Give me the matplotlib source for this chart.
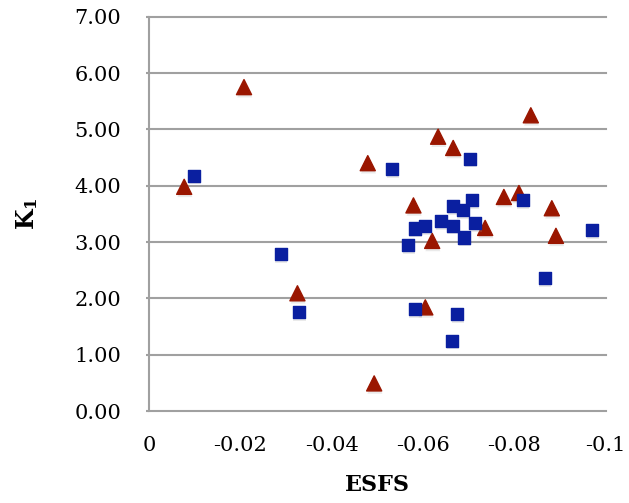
import numpy as np
import matplotlib
matplotlib.use('Agg')
from matplotlib import pyplot as plt
from matplotlib import patheffects as pe
from matplotlib.lines import Line2D

tri_esfs = [-0.0077, -0.0208, -0.0325, -0.0479, -0.0493, -0.0579, -0.0605, -0.0620,
            -0.0633, -0.0666, -0.0736, -0.0777, -0.0810, -0.0836, -0.0882, -0.0891]
tri_k1 = [3.98, 5.75, 2.09, 4.40, 0.49, 3.65, 1.84, 3.02,
          4.87, 4.67, 3.25, 3.80, 3.87, 5.25, 3.60, 3.11]

sq_esfs = [-0.0099, -0.0288, -0.0328, -0.0532, -0.0568, -0.0582, -0.0582, -0.0605,
           -0.0639, -0.0666, -0.0665, -0.0674, -0.0664, -0.0687, -0.0690, -0.0703,
           -0.0707, -0.0714, -0.0818, -0.0866, -0.0970]
sq_k1 = [4.18, 2.79, 1.75, 4.30, 2.95, 1.81, 3.24, 3.28,
         3.37, 3.64, 3.29, 1.72, 1.25, 3.56, 3.08, 4.48,
         3.75, 3.33, 3.74, 2.36, 3.21]

x_ticks = [0, -0.02, -0.04, -0.06, -0.08, -0.1]
x_tick_labels = ['0', '-0.02', '-0.04', '-0.06', '-0.08', '-0.1']
y_ticks = [0, 1, 2, 3, 4, 5, 6, 7]

plt.rcParams['font.family'] = 'DejaVu Serif'
plt.rcParams['mathtext.fontset'] = 'dejavuserif'

fig = plt.figure(figsize=(6.29, 5.03), dpi=100)
axes = fig.add_axes([0.2369, 0.1829, 0.7261, 0.7839])
axes.set_xlim(0, -0.1)
axes.set_ylim(0, 7)
axes.patch.set_visible(False)

# Горизонтальные линии сетки рисуем на уровне фигуры, под осями
for y in y_ticks:
    fig.add_artist(Line2D([0, 1], [y, y], transform=axes.get_yaxis_transform(),
                          color='#A0A0A0', linewidth=1.5, zorder=-1))

shadow = [pe.SimplePatchShadow(offset=(0.5, -2), shadow_rgbFace='#999999', alpha=0.2),
          pe.Normal()]
axes.scatter(tri_esfs, tri_k1, marker='^', s=118, color='#9A1600',
             zorder=3, path_effects=shadow)
axes.scatter(sq_esfs, sq_k1, marker='s', s=75, color='#0A1FA0',
             zorder=4, path_effects=shadow)

axes.set_xticks(x_ticks)
axes.set_xticklabels(x_tick_labels)
axes.set_yticks(y_ticks)
axes.set_yticklabels(['{:.2f}'.format(v) for v in y_ticks])

for side in ['top', 'right', 'bottom']:
    axes.spines[side].set_visible(False)
axes.spines['left'].set_color('#A0A0A0')
axes.spines['left'].set_linewidth(1.5)
axes.tick_params(axis='y', length=2, color='#A0A0A0', width=1.5, pad=18, labelsize=15)
axes.tick_params(axis='x', length=0, pad=18, labelsize=15)

axes.set_xlabel('ESFS', fontsize=16, fontweight='bold', labelpad=14)
axes.set_ylabel(r'$\mathbf{K_1}$', fontsize=17, labelpad=25)

plt.savefig('out.png', dpi=100)
